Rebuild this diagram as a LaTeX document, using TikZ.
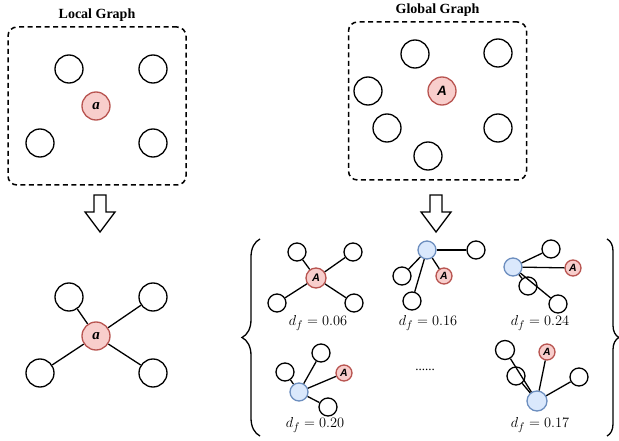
\documentclass[tikz,border=0pt]{standalone}
\usepackage{fontspec}
\setmainfont{Liberation Serif}
\newfontfamily\labelsans{Liberation Sans}
\usetikzlibrary{positioning,decorations.pathreplacing}
\definecolor{focusfill}{HTML}{F8CECC}
\definecolor{focusdraw}{HTML}{B85450}
\definecolor{hubfill}{HTML}{DAE8FC}
\definecolor{hubdraw}{HTML}{6C8EBF}

\begin{document}
\begin{tikzpicture}[
        x=1pt, y=-1pt,
        vertex/.style={circle, draw, line width=1.3pt, minimum size=28pt, inner sep=0pt},
        twig/.style={vertex, minimum size=18pt},
        focus/.style={fill=focusfill, draw=focusdraw},
        hub/.style={twig, fill=hubfill, draw=hubdraw},
        seed/.style={twig, focus, minimum size=16pt, font=\fontsize{10.5}{12}\selectfont\labelsans\bfseries\itshape},
        frame/.style={draw, dashed, dash pattern=on 5pt off 3.5pt, line width=1.5pt, rounded corners=9pt, minimum width=178pt, minimum height=158pt},
        title/.style={font=\fontsize{14}{16}\selectfont\bfseries},
        edge/.style={line width=1.3pt},
        score/.style={font=\fontsize{15}{17}\selectfont},
        blockarrow/.style={draw, line width=1.3pt, line join=miter},
        bracket/.style={decorate, line width=1.3pt}
    ]
    \useasboundingbox (0,0) rectangle (619,441);

    % Local graph (top left)
    \node[frame] (local-box) at (97,106) {};
    \node[title, above=1.5pt of local-box] (local-label) {Local Graph};
    \node[vertex] (l1) at (69,69) {};
    \node[vertex] (l2) at (153,69) {};
    \node[vertex] (l3) at (40,143) {};
    \node[vertex] (l4) at (153,143) {};
    \node[vertex, focus, font=\fontsize{15}{17}\selectfont\bfseries\itshape] (la) at (96,106) {a};

    % Global graph (top right)
    \node[frame] (global-box) at (437.5,101) {};
    \node[title, above=1.5pt of global-box] (global-label) {Global Graph};
    \node[vertex] (g1) at (415,54) {};
    \node[vertex] (g2) at (498,53) {};
    \node[vertex] (g3) at (368,91) {};
    \node[vertex] (g4) at (387,128) {};
    \node[vertex] (g5) at (498,128) {};
    \node[vertex] (g6) at (428,156) {};
    \node[vertex, focus, font=\fontsize{13.5}{15}\selectfont\labelsans\bfseries\itshape] (ga) at (442,91) {A};

    % Block arrows
    \foreach \ax in {100,436} {
        \draw[blockarrow] (\ax-6,195) -- (\ax+6,195) -- (\ax+6,212) -- (\ax+15,212)
            -- (\ax,232) -- (\ax-15,212) -- (\ax-6,212) -- cycle;
    }

    % Local star (bottom left)
    \node[vertex, focus, font=\fontsize{15}{17}\selectfont\bfseries\itshape] (sa) at (96,336) {a};
    \node[vertex] (s1) at (69,297) {};
    \node[vertex] (s2) at (153,297) {};
    \node[vertex] (s3) at (40,373) {};
    \node[vertex] (s4) at (153,373) {};
    \foreach \n in {s1,s2,s3,s4}
        \draw[edge] (sa) -- (\n);

    % Sampled subgraphs
    \node[twig, focus, minimum size=20pt, font=\fontsize{11}{12}\selectfont\labelsans\bfseries\itshape] (p1a) at (316,278) {A};
    \node[twig] (p1b) at (297,252) {};
    \node[twig] (p1c) at (353,252) {};
    \node[twig] (p1d) at (277,303) {};
    \node[twig] (p1e) at (354,303) {};
    \foreach \n in {p1b,p1c,p1d,p1e}
        \draw[edge] (p1a) -- (\n);
    \node[score] (p1-score) at (318,323) {$d_f = 0.06$};

    \node[hub] (p2h) at (427,250) {};
    \node[twig] (p2b) at (476,250) {};
    \node[twig] (p2c) at (402,276) {};
    \node[seed] (p2a) at (444,276) {A};
    \node[twig] (p2d) at (412,301) {};
    \foreach \n in {p2b,p2c,p2a,p2d}
        \draw[edge] (p2h) -- (\n);
    \node[score] (p2-score) at (428,323) {$d_f = 0.16$};

    \node[hub] (p3h) at (513,267) {};
    \node[twig] (p3b) at (551,249) {};
    \node[seed] (p3a) at (573,268) {A};
    \node[twig] (p3c) at (528,286) {};
    \node[twig] (p3d) at (558,304) {};
    \foreach \n in {p3b,p3a,p3c,p3d}
        \draw[edge] (p3h) -- (\n);
    \node[score] (p3-score) at (540,323) {$d_f = 0.24$};

    \node[hub] (p4h) at (299,392) {};
    \node[twig] (p4b) at (285,372) {};
    \node[twig] (p4c) at (321,353) {};
    \node[seed] (p4a) at (344,373) {A};
    \node[twig] (p4d) at (328,407) {};
    \foreach \n in {p4b,p4c,p4a,p4d}
        \draw[edge] (p4h) -- (\n);
    \node[score] (p4-score) at (315,425) {$d_f = 0.20$};

    \node[font=\fontsize{13}{15}\selectfont] (more) at (425,370) {......};

    \node[hub, minimum size=20pt] (p5h) at (537,401) {};
    \node[twig, minimum size=19pt] (p5b) at (505,350) {};
    \node[seed] (p5a) at (547,352) {A};
    \node[twig] (p5c) at (516,376) {};
    \node[twig] (p5d) at (579,377) {};
    \foreach \n in {p5b,p5a,p5c,p5d}
        \draw[edge] (p5h) -- (\n);
    \node[score] (p5-score) at (540,425) {$d_f = 0.17$};

    % Braces round the samples
    \draw[bracket, decoration={brace, amplitude=18pt}] (260,436) -- (260,239);
    \draw[bracket, decoration={brace, amplitude=12pt}] (607,239) -- (607,436);

\end{tikzpicture}
\end{document}
